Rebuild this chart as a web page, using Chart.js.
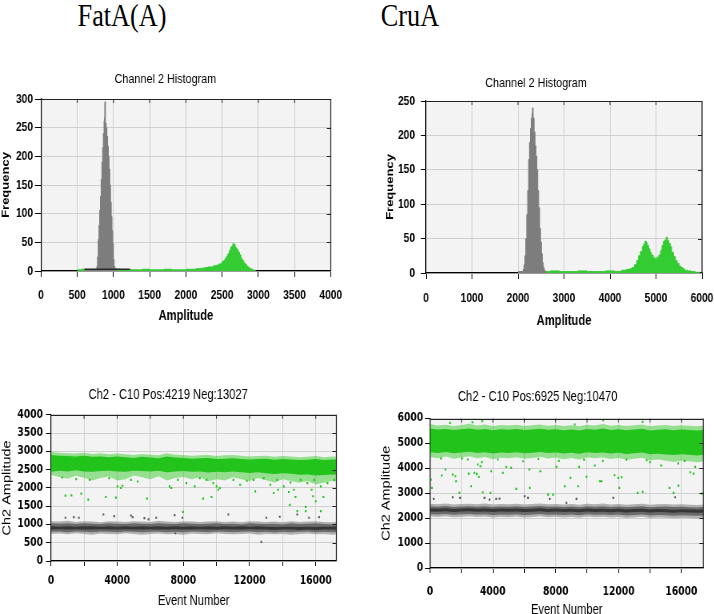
<!DOCTYPE html>
<html><head><meta charset="utf-8">
<script src="https://cdn.jsdelivr.net/npm/chart.js@4.4.1/dist/chart.umd.min.js"></script>
<style>
html,body{margin:0;padding:0;background:#fff;width:714px;height:614px;overflow:hidden;position:relative;}
canvas{position:absolute;transform-origin:0 0;}
.big{position:absolute;top:-1px;font-family:'Liberation Serif','Times New Roman',serif;font-size:32px;line-height:32px;color:#000;white-space:nowrap;transform:translateX(-50%) scaleX(0.82);}
</style></head><body>
<div class="big" style="left:122px">FatA(A)</div>
<div class="big" style="left:410px">CruA</div>
<canvas id="h1"></canvas>
<canvas id="h2"></canvas>
<canvas id="s1"></canvas>
<canvas id="s2"></canvas>
<script>
// ---------- Histogram FatA(A) ----------
const h1GreyX = [600,760,770,780,790,800,810,820,830,840,850,860,870,876,880,890,900,910,920,930,940,950,960,970,980,990,1000,1010,1020,1040];
const h1GreyY = [2,3,8,25,55,80,106,130,160,190,215,240,262,268,295,258,250,235,218,200,178,150,120,95,70,48,20,8,4,0];
const h1TailX = [600,1230];
const h1TailY = [3,3];
const h1GreenX = [500,560,640,720,800,900,1000,1100,1200,1300,1400,1500,1600,1700,1800,1900,2000,2080,2140,2180,2220,2260,2300,2340,2380,2420,2450,2480,2500,2520,2540,2560,2580,2600,2620,2640,2650,2660,2670,2680,2690,2700,2720,2740,2760,2780,2800,2820,2840,2860,2880,2900,2920,2940,2960];
const h1GreenY = [2,3,2,3,2,2,3,2,2,2,3,2,2,3,2,2,3,3,4,4,5,6,7,7,9,10,12,13,16,18,22,26,30,36,42,45,48,44,47,42,40,38,33,28,22,18,14,11,8,6,4,3,2,1,0];

// ---------- Histogram CruA ----------
const h2GreyX = [2000,2110,2130,2150,2170,2190,2210,2230,2250,2270,2290,2305,2315,2330,2350,2370,2390,2410,2430,2450,2470,2490,2510,2530,2550,2570,2590,2610];
const h2GreyY = [2,5,12,25,50,85,120,165,190,210,225,232,240,225,205,185,170,150,120,95,65,45,28,15,8,4,2,0];
const h2GreenX = [2590,2700,2900,3100,3300,3500,3700,3900,4100,4250,4350,4420,4480,4530,4580,4620,4660,4700,4730,4760,4790,4810,4840,4870,4900,4940,4980,5020,5060,5100,5130,5160,5190,5220,5250,5280,5310,5340,5380,5420,5460,5500,5540,5580,5620,5680,5760,5850,5950];
const h2GreenY = [2,3,2,2,3,2,2,3,2,4,5,6,8,12,18,25,31,38,42,46,44,40,35,30,26,22,20,23,26,33,40,46,48,52,47,43,38,30,24,18,14,10,8,6,4,3,2,1,0];

// ---------- droplet plots ----------
const eventTicks = [0,2000,4000,6000,8000,10000,12000,14000,16000];
const eventX = [0,500,1000,1500,2000,2500,3000,3500,4000,4500,5000,5500,6000,6500,7000,7500,8000,8500,9000,9500,10000,10500,11000,11500,12000,12500,13000,13500,14000,14500,15000,15500,16000,16500,17000,17500];

// FatA(A) droplets
const s1GreenOuterHi = [2990,2960,2950,2940,2960,2930,2950,2920,2940,2920,2900,2930,2910,2890,2950,2910,2900,2880,2890,2900,2870,2890,2900,2880,2860,2870,2880,2850,2870,2860,2840,2850,2870,2840,2860,2850];
const s1GreenDenseHi = [2900,2880,2870,2860,2880,2850,2860,2840,2860,2840,2820,2850,2830,2810,2860,2830,2820,2800,2810,2820,2790,2800,2810,2790,2780,2790,2800,2770,2790,2780,2760,2770,2790,2760,2780,2770];
const s1GreenDenseLo = [2440,2470,2450,2480,2450,2440,2460,2470,2450,2440,2470,2460,2450,2470,2430,2450,2460,2440,2450,2420,2440,2430,2450,2430,2410,2430,2400,2380,2400,2390,2360,2370,2340,2350,2370,2360];
const s1GreenOuterLo = [2350,2300,2250,2330,2280,2200,2270,2310,2200,2240,2340,2290,2240,2320,2200,2270,2300,2240,2290,2180,2240,2200,2290,2240,2190,2270,2210,2150,2240,2190,2140,2190,2100,2140,2190,2150];
const s1GreyOuterHi = [1090,1080,1100,1070,1090,1080,1060,1090,1080,1070,1090,1080,1070,1100,1080,1070,1090,1080,1070,1080,1090,1070,1080,1060,1090,1080,1070,1080,1060,1090,1070,1080,1090,1070,1060,1080];
const s1GreyDenseHi = [1030,1020,1030,1010,1030,1020,1010,1030,1020,1010,1030,1020,1010,1030,1020,1010,1030,1020,1010,1020,1030,1010,1020,1000,1030,1020,1010,1020,1000,1030,1010,1020,1030,1010,1000,1020];
const s1GreyCoreHi = [950,940,950,940,950,950,940,950,940,950,940,950,940,950,940,950,940,950,940,950,940,950,940,950,940,950,940,930,940,940,930,940,930,940,940,930];
const s1GreyCoreLo = [860,870,860,870,860,860,870,860,860,870,860,860,870,860,860,870,860,860,870,860,860,870,860,860,870,860,860,850,860,860,850,860,850,860,860,850];
const s1GreyDenseLo = [800,810,790,810,800,790,810,800,790,810,800,790,800,810,790,800,790,810,800,790,810,800,790,800,810,790,800,780,800,790,800,810,790,800,790,800];
const s1GreyOuterLo = [740,750,730,760,740,720,750,740,730,760,740,720,740,750,730,740,720,750,740,730,760,740,730,740,750,720,740,730,740,720,740,750,730,740,720,740];
const s1GreenDotX = [873,1238,1827,2253,3309,3918,5806,7978,9196,9703,10109,12342,13459,13723,14372,14433,14778,14880,15387,15387,15753,15834,15997,16301,16463,670,1523,2335,3512,4019,4222,4324,4831,5237,7166,7267,7673,8181,8688,8993,9399,9805,10008,10211,11023,11429,11835,12241,12850,13256,13662,14068,14474,14677,15083,15489,15895,16301,16707,17113];
const s1GreenDotY = [1788,1797,1842,1680,1752,1734,1707,1345,1707,1752,1950,1905,1860,1950,1887,1535,1752,1364,1481,1364,1950,1770,1634,1364,1752,2285,2239,2221,2266,2041,1996,2059,2221,2176,2041,1996,2221,2131,2041,2266,2221,2131,2041,1996,2221,2086,2194,2221,2266,2086,2221,2041,2149,1950,2221,2131,2221,2041,2131,2221];
const s1GreyDotX = [873,1380,1685,3167,3817,4832,4934,5644,5888,6355,7472,7511,7938,10718,12708,13012,13824,14880,15590,16199];
const s1GreyDotY = [1183,1201,1183,1273,1228,1246,1201,1174,1138,1183,1255,758,1183,1273,524,1183,1210,1273,1183,1201];

// CruA droplets
const s2GreenOuterHi = [5780,5720,5750,5700,5740,5790,5720,5760,5700,5740,5720,5750,5700,5730,5760,5710,5740,5700,5730,5690,5750,5720,5780,5710,5740,5700,5730,5760,5690,5720,5740,5700,5730,5710,5690,5720];
const s2GreenDenseHi = [5600,5560,5580,5540,5570,5600,5550,5580,5530,5570,5550,5580,5540,5560,5590,5550,5570,5530,5560,5520,5580,5550,5600,5540,5570,5530,5560,5590,5520,5550,5570,5530,5560,5540,5520,5550];
const s2GreenDenseLo = [4650,4620,4660,4610,4640,4670,4620,4650,4600,4640,4620,4650,4610,4630,4660,4620,4640,4600,4630,4590,4650,4620,4640,4600,4630,4580,4610,4640,4570,4590,4560,4540,4570,4550,4520,4550];
const s2GreenOuterLo = [4450,4400,4470,4380,4430,4480,4400,4450,4360,4420,4400,4440,4380,4410,4460,4390,4430,4360,4410,4350,4440,4400,4430,4370,4410,4340,4380,4420,4320,4350,4300,4250,4300,4280,4240,4280];
const s2GreyOuterHi = [2580,2560,2590,2550,2570,2580,2560,2590,2550,2570,2560,2580,2550,2570,2590,2560,2570,2550,2570,2540,2580,2560,2590,2550,2570,2540,2560,2580,2540,2560,2570,2550,2560,2540,2530,2550];
const s2GreyDenseHi = [2480,2460,2490,2450,2470,2480,2460,2480,2450,2470,2460,2480,2450,2470,2490,2460,2470,2450,2470,2440,2480,2460,2480,2450,2470,2440,2460,2480,2440,2460,2470,2450,2460,2440,2430,2450];
const s2GreyCoreHi = [2390,2380,2400,2370,2390,2400,2380,2390,2370,2390,2380,2390,2370,2380,2400,2370,2390,2370,2380,2360,2390,2370,2380,2360,2380,2350,2370,2380,2350,2370,2360,2340,2360,2350,2340,2350];
const s2GreyCoreLo = [2270,2260,2280,2250,2270,2280,2260,2270,2250,2270,2260,2270,2250,2260,2280,2250,2270,2250,2260,2240,2270,2250,2260,2240,2260,2230,2250,2260,2230,2250,2240,2220,2240,2230,2220,2230];
const s2GreyDenseLo = [2160,2150,2170,2140,2160,2170,2150,2160,2130,2150,2140,2160,2130,2150,2170,2140,2150,2130,2150,2120,2160,2140,2150,2130,2150,2110,2130,2150,2110,2130,2120,2100,2120,2110,2100,2110];
const s2GreyOuterLo = [2070,2050,2080,2040,2060,2080,2050,2070,2030,2060,2040,2070,2030,2050,2080,2040,2060,2030,2050,2020,2070,2040,2060,2030,2050,2010,2030,2060,2010,2030,2020,2000,2020,2010,1990,2010];
const s2GreenDotX = [60,120,745,979,1447,1617,1660,1873,2043,2405,2469,2618,2830,2979,3043,3107,3213,3362,3852,3894,4320,4639,4852,5171,5490,5916,6320,6341,7022,7512,7831,8044,8576,8938,9427,9491,9959,10491,10810,10916,11747,11981,12045,12194,13215,13534,13790,14705,15237,15492,15811,16556,16769,16875,17300,1277,3320,9214,11023,13534,2700,700,3300,6900,8200,9800,11000,12500,14000,15800,16200];
const s2GreenDotY = [3549,3214,3710,3951,3750,3683,3482,3013,4393,4353,3790,3281,3817,3777,4152,3656,4085,3040,3013,3884,4353,3817,4058,4018,3174,4286,3951,3214,3884,2946,2946,4058,3281,3616,3281,4058,3656,4112,3482,3482,3723,3616,3214,3643,3013,3053,4326,4112,3214,3013,3308,3844,3790,4058,2986,5826,5893,5759,5933,5866,5850,4400,4250,4380,4300,4350,4300,4350,4250,4200,4300];
const s2GreyDotX = [234,1447,1915,3469,3788,4213,4426,6022,6235,7618,8682,9320,11661,15598];
const s2GreyDotY = [2772,2839,2812,2812,2745,2772,2785,2879,2812,2772,2612,2772,2812,2839];

// ---------- helpers ----------
const K = 0.8; // horizontal squeeze of each panel, as in the reference screenshots
const LS = "'Liberation Sans',Arial,sans-serif";
const DJ = "'DejaVu Sans',Verdana,sans-serif";
const pts = (xs, ys) => xs.map((x, i) => ({x: x, y: ys[i]}));
const T = 'rgba(0,0,0,0)';
const u = v => v / K; // convert on-page horizontal px to canvas px

function place(id, left, top, w, h) {
  const c = document.getElementById(id);
  c.width = Math.round(w / K); c.height = h;
  c.style.left = left + 'px'; c.style.top = top + 'px';
  c.style.transform = 'scaleX(' + K + ')';
  return c;
}

const bgFrame = {
  id: 'bgFrame',
  beforeDraw(c) {
    const a = c.chartArea, ctx = c.ctx;
    ctx.save(); ctx.fillStyle = '#f3f3f3';
    ctx.fillRect(a.left, a.top, a.right - a.left, a.bottom - a.top);
    ctx.restore();
  },
  afterDraw(c) {
    const a = c.chartArea, ctx = c.ctx, xs = c.scales.x, ys = c.scales.y;
    ctx.save(); ctx.strokeStyle = '#222'; ctx.lineWidth = 1.2;
    ctx.beginPath();
    ctx.moveTo(a.left, Math.round(a.top) + 0.5);
    ctx.lineTo(a.right, Math.round(a.top) + 0.5);
    ctx.moveTo(a.right, a.top);
    ctx.lineTo(a.right, a.bottom);
    ctx.stroke();
    ctx.lineWidth = 1;
    ctx.beginPath();
    xs.ticks.forEach(t => { if (t.value > xs.min && t.value < xs.max) { const p = xs.getPixelForValue(t.value); ctx.moveTo(p, a.top); ctx.lineTo(p, a.top + 4); } });
    ys.ticks.forEach(t => { if (t.value > ys.min && t.value < ys.max) { const p = Math.round(ys.getPixelForValue(t.value)) + 0.5; ctx.moveTo(a.right, p); ctx.lineTo(a.right - 5, p); } });
    ctx.stroke(); ctx.restore();
  }
};

function baseOpts(title, tFont, tPad, rightPad) {
  return {
    responsive: false, animation: false, events: [], devicePixelRatio: 1,
    layout: {padding: {left: 0, right: rightPad, top: 0, bottom: 0}},
    plugins: {
      legend: {display: false}, tooltip: {enabled: false},
      title: {display: true, text: title, color: '#000', font: tFont, padding: tPad}
    }
  };
}
function axis(o) {
  const a = {
    type: 'linear', min: o.min, max: o.max,
    ticks: {stepSize: o.step, color: '#000', padding: o.pad, autoSkip: false, maxRotation: 0,
      font: o.font, callback: o.cb || (v => String(v))},
    grid: {color: '#d0d0d0', tickColor: '#000', tickLength: o.tl},
    border: {color: '#000', width: 1.2},
    title: {display: true, text: o.title, color: '#000', font: o.tFont, padding: o.tPad},
    afterFit: s => {
      if (o.horiz) { s.height = o.fit; s.paddingLeft = 0; s.paddingRight = 0; }
      else { s.width = o.fit; }
    }
  };
  if (o.tickValues) a.afterBuildTicks = s => { s.ticks = o.tickValues.map(v => ({value: v})); };
  return a;
}
function stepSet(data, color, order) {
  return {data: data, stepped: true, fill: 'origin', backgroundColor: color, borderColor: color, borderWidth: 1, pointRadius: 0, order: order};
}
function band(data, fill, color, order) {
  return {data: data, fill: fill, backgroundColor: color, borderColor: T, borderWidth: 1, pointRadius: 0, tension: 0, order: order};
}
function dots(data, color) {
  return {data: data, showLine: false, pointStyle: 'rect', pointRadius: 1.5, pointBackgroundColor: color, pointBorderWidth: 0, borderColor: T, order: 0};
}

const HT = {family: LS, size: 12.8, weight: 'bold'};
const HTITLE = {family: LS, size: 13.5, weight: 'normal'};
const HAX = {family: LS, size: 14, weight: 'bold'};
const HFQ = {family: LS, size: 13, weight: 'bold'};

// ---------- Chart 1 ----------
place('h1', 0, 62, 345, 265);
const o1 = baseOpts('Channel 2 Histogram', HTITLE, {top: 8.9, bottom: 11.9}, u(14));
o1.scales = {
  x: axis({min: 0, max: 4000, step: 500, pad: 11, tl: 6, font: HT, title: 'Amplitude', tFont: HAX, tPad: {top: 0, bottom: 2.6}, fit: 56, horiz: true}),
  y: axis({min: 0, max: 300, step: 50, pad: u(2), tl: u(6), font: HT, title: 'Frequency', tFont: HFQ, tPad: {top: 0, bottom: 0}, fit: u(41), horiz: false})
};
new Chart(document.getElementById('h1'), {
  type: 'line',
  data: {datasets: [
    stepSet(pts(h1GreenX, h1GreenY), '#33cc33', 3),
    stepSet(pts(h1GreyX, h1GreyY), '#7d7d7d', 2),
    {data: pts(h1TailX, h1TailY), stepped: true, fill: false, borderColor: '#2a2a2a', borderWidth: 1.5, pointRadius: 0, order: 1}
  ]},
  options: o1, plugins: [bgFrame]
});

// ---------- Chart 2 ----------
place('h2', 370, 64, 344, 267);
const o2 = baseOpts('Channel 2 Histogram', HTITLE, {top: 11.2, bottom: 9.6}, u(12));
o2.scales = {
  x: axis({min: 0, max: 6000, step: 1000, pad: 12, tl: 6, font: HT, title: 'Amplitude', tFont: HAX, tPad: {top: 0, bottom: 1.6}, fit: 58, horiz: true}),
  y: axis({min: 0, max: 250, step: 50, pad: u(6), tl: u(5), font: HT, title: 'Frequency', tFont: HFQ, tPad: {top: 17.8, bottom: 0}, fit: u(56), horiz: false})
};
new Chart(document.getElementById('h2'), {
  type: 'line',
  data: {datasets: [
    stepSet(pts(h2GreenX, h2GreenY), '#33cc33', 3),
    stepSet(pts(h2GreyX, h2GreyY), '#7d7d7d', 2)
  ]},
  options: o2, plugins: [bgFrame]
});

// ---------- droplet charts ----------
const ST = {family: DJ, size: 11.5, weight: 'bold'};
const STITLE = {family: LS, size: 14, weight: 'normal'};
const SAX = {family: LS, size: 14, weight: 'normal'};
const SAY = {family: LS, size: 14.5, weight: 'normal'};
const GREEN_LIGHT = 'rgba(40,200,25,0.45)', GREEN = '#22c41c';
const GREY_LIGHT = 'rgba(120,120,120,0.55)', GREY = '#6a6a6a', GREY_CORE = '#363636';
const evLabel = v => (v % 4000 === 0 ? String(v) : '');

function dropletSets(gOH, gDH, gDL, gOL, yOH, yDH, yCH, yCL, yDL, yOL, gDots, yDots) {
  const P = ys => pts(eventX, ys);
  return [
    band(P(gOH), '+1', GREEN_LIGHT, 20), band(P(gOL), false, T, 21),
    band(P(gDH), '+1', GREEN, 10), band(P(gDL), false, T, 11),
    band(P(yOH), '+1', GREY_LIGHT, 20), band(P(yOL), false, T, 21),
    band(P(yDH), '+1', GREY, 10), band(P(yDL), false, T, 11),
    band(P(yCH), '+1', GREY_CORE, 5), band(P(yCL), false, T, 6),
    dots(gDots, '#22c41c'), dots(yDots, '#5a5a5a')
  ];
}

place('s1', 0, 380, 350, 234);
const o3 = baseOpts('Ch2 - C10 Pos:4219 Neg:13027', STITLE, {top: 6.6, bottom: 11.4}, u(14));
o3.scales = {
  x: axis({min: 0, max: 17246, step: 2000, tickValues: eventTicks, cb: evLabel, pad: 8.5, tl: 5, font: ST, title: 'Event Number', tFont: SAX, tPad: {top: 0, bottom: 4.6}, fit: 53, horiz: true}),
  y: axis({min: 0, max: 4000, step: 500, pad: u(3), tl: u(5), font: ST, title: 'Ch2 Amplitude', tFont: SAY, tPad: {top: 0, bottom: 0}, fit: u(51), horiz: false})
};
new Chart(document.getElementById('s1'), {
  type: 'line',
  data: {datasets: dropletSets(s1GreenOuterHi, s1GreenDenseHi, s1GreenDenseLo, s1GreenOuterLo,
    s1GreyOuterHi, s1GreyDenseHi, s1GreyCoreHi, s1GreyCoreLo, s1GreyDenseLo, s1GreyOuterLo,
    pts(s1GreenDotX, s1GreenDotY), pts(s1GreyDotX, s1GreyDotY))},
  options: o3, plugins: [bgFrame]
});

place('s2', 372, 380, 342, 240);
const o4 = baseOpts('Ch2 - C10 Pos:6925 Neg:10470', STITLE, {top: 8.3, bottom: 13.4}, u(11));
o4.scales = {
  x: axis({min: 0, max: 17395, step: 2000, tickValues: eventTicks, cb: evLabel, pad: 12.2, tl: 5, font: ST, title: 'Event Number', tFont: SAX, tPad: {top: 0, bottom: 1.6}, fit: 52, horiz: true}),
  y: axis({min: 0, max: 6000, step: 1000, pad: u(1.7), tl: u(5), font: ST, title: 'Ch2 Amplitude', tFont: SAY, tPad: {top: 8.8, bottom: 0}, fit: u(58), horiz: false})
};
new Chart(document.getElementById('s2'), {
  type: 'line',
  data: {datasets: dropletSets(s2GreenOuterHi, s2GreenDenseHi, s2GreenDenseLo, s2GreenOuterLo,
    s2GreyOuterHi, s2GreyDenseHi, s2GreyCoreHi, s2GreyCoreLo, s2GreyDenseLo, s2GreyOuterLo,
    pts(s2GreenDotX, s2GreenDotY), pts(s2GreyDotX, s2GreyDotY))},
  options: o4, plugins: [bgFrame]
});
</script>
</body></html>
